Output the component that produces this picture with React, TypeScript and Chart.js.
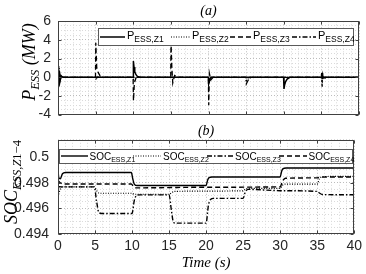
import React, { useEffect, useRef } from "react";
import { Chart, registerables } from "chart.js";
Chart.register(...registerables);

// ---------- tick values ----------
const xMajorTicks = [0, 5, 10, 15, 20, 25, 30, 35, 40];
const pMajorTicks = [-4, -2, 0, 2, 4, 6];
const socMajorTicks = [0.494, 0.496, 0.498, 0.5];

// ---------- legend texts ----------
const pLegendMain = "P";
const socLegendMain = "SOC";
const legendSubs = ["ESS,Z1", "ESS,Z2", "ESS,Z3", "ESS,Z4"];

// ---------- panel (a): P_ESS (MW) ----------
const pTimeZ1 = [0, 0.05, 0.12, 0.2, 0.3, 0.45, 0.7, 9.98, 10.02, 10.1, 10.2, 10.35, 10.55, 10.9, 19.98, 20.03, 20.15, 20.4, 29.98, 30.03, 30.12, 30.25, 30.45, 30.8, 40];
const pZ1 = [0, 1.2, -0.9, 0.6, -0.3, 0.1, 0, 0, 1.75, 1.1, 0.6, 0.3, 0.1, 0, 0, -0.7, -0.3, 0, 0, -1.25, -0.8, -0.45, -0.2, 0, 0];

const pTimeZ2 = [0, 0.04, 0.1, 0.2, 0.35, 0.6, 4.98, 5.05, 5.3, 5.8, 9.98, 10.05, 10.2, 10.5, 19.98, 20.05, 20.2, 20.5, 24.98, 25.05, 25.25, 25.6, 34.98, 35.05, 35.2, 35.5, 40];
const pZ2 = [0, -1.1, 0.5, -0.4, 0.1, 0, 0, -0.3, 0.1, 0, 0, -0.4, -0.15, 0, 0, -0.6, -0.2, 0, 0, -0.5, -0.2, 0, 0, -0.5, -0.2, 0, 0];

const pTimeZ3 = [0, 0.05, 0.12, 0.25, 0.5, 4.98, 5.02, 5.15, 5.35, 5.6, 6.0, 9.98, 10.03, 10.15, 10.4, 14.98, 15.02, 15.12, 15.25, 15.5, 15.9, 19.98, 20.03, 20.12, 20.3, 20.6, 40];
const pZ3 = [0, 0.9, -0.5, 0.2, 0, 0, 3.7, 1.0, 0.5, 0.15, 0, 0, -2.5, -0.6, 0, 0, 3.8, 1.2, -0.6, 0.2, 0, 0, -3.0, 0.4, -0.3, 0, 0];

const pTimeZ4 = [0, 0.03, 0.08, 0.15, 0.25, 0.4, 0.6, 24.98, 25.03, 25.15, 25.35, 25.6, 34.98, 35.03, 35.1, 35.2, 35.35, 35.6, 40];
const pZ4 = [0, 2.2, -1.1, 1.0, -0.5, 0.2, 0, 0, -0.7, -0.5, -0.2, 0, 0, 0.5, -1.0, 0.3, -0.2, 0, 0];

// ---------- panel (b): SOC ----------
const sTimeZ1 = [0, 0.1, 0.3, 0.6, 1.0, 9.9, 10.1, 10.3, 10.7, 20, 20.2, 20.4, 20.8, 30, 30.2, 30.4, 30.8, 40];
const sZ1 = [0.4990, 0.4984, 0.4983, 0.4987, 0.4988, 0.4988, 0.4983, 0.4979, 0.49778, 0.49778, 0.4982, 0.4984, 0.49845, 0.49845, 0.4989, 0.4991, 0.49915, 0.49915];

const sTimeZ2 = [0, 0.3, 0.7, 4.9, 5.2, 5.5, 5.9, 10, 10.3, 10.7, 15, 15.3, 15.7, 25, 25.3, 25.7, 30, 30.3, 30.7, 35, 35.3, 35.7, 40];
const sZ2 = [0.4969, 0.4975, 0.49768, 0.49768, 0.4974, 0.4972, 0.49718, 0.49718, 0.4971, 0.4971, 0.4971, 0.4972, 0.49733, 0.49737, 0.4975, 0.49756, 0.49756, 0.4978, 0.49789, 0.49789, 0.4983, 0.49848, 0.4985];

const sTimeZ3 = [0, 0.5, 4.9, 5.2, 5.5, 5.9, 10, 10.3, 10.6, 11, 15, 15.3, 15.6, 16, 20, 20.3, 20.6, 21, 25, 25.3, 25.7, 30, 35, 35.3, 35.7, 40];
const sZ3 = [0.4977, 0.49768, 0.49768, 0.4966, 0.4957, 0.4956, 0.4956, 0.4966, 0.4970, 0.49705, 0.49705, 0.4959, 0.4949, 0.49485, 0.49485, 0.4962, 0.4967, 0.49678, 0.49678, 0.4973, 0.49748, 0.49738, 0.49732, 0.4972, 0.49708, 0.49706];

const sTimeZ4 = [0, 0.3, 0.8, 9.9, 10.2, 10.6, 20, 30, 30.3, 30.7, 35, 35.5, 40];
const sZ4 = [0.4982, 0.4980, 0.4979, 0.4979, 0.4977, 0.4976, 0.49765, 0.49768, 0.4981, 0.49835, 0.49838, 0.49844, 0.49845];

// ---------- helpers ----------
type Part = { t: string; f: string; dy?: number };

function partsWidth(ctx: CanvasRenderingContext2D, parts: Part[]) {
  let w = 0;
  for (const p of parts) {
    ctx.font = p.f;
    w += ctx.measureText(p.t).width;
  }
  return w;
}

function drawParts(ctx: CanvasRenderingContext2D, parts: Part[], x: number, y: number) {
  let cx = x;
  for (const p of parts) {
    ctx.font = p.f;
    ctx.fillText(p.t, cx, y + (p.dy || 0));
    cx += ctx.measureText(p.t).width;
  }
}

function pts(ts: number[], vs: number[]) {
  return ts.map((t, i) => ({ x: t, y: vs[i] }));
}

const SERIF = "'Liberation Serif', 'DejaVu Serif', serif";
const SANS = "'Liberation Sans', Arial, sans-serif";

const framePlugin = {
  id: "frame",
  afterDatasetsDraw(chart: any, _a: any, o: any) {
    const { ctx, chartArea: a } = chart;
    ctx.save();
    ctx.strokeStyle = "#404040";
    ctx.lineWidth = 1;
    ctx.setLineDash([]);
    const L = Math.round(a.left) + 0.5, R = Math.round(a.right) - 0.5;
    const T = Math.round(a.top) + 0.5, B = Math.round(a.bottom) - 0.5;
    ctx.strokeRect(L, T, R - L, B - T);
    ctx.beginPath();
    for (const v of o.xTicks || []) {
      const x = Math.round(chart.scales.x.getPixelForValue(v)) + 0.5;
      ctx.moveTo(x, B); ctx.lineTo(x, B - 3);
      ctx.moveTo(x, T); ctx.lineTo(x, T + 3);
    }
    for (const v of o.yTicks || []) {
      const y = Math.round(chart.scales.y.getPixelForValue(v)) + 0.5;
      ctx.moveTo(L, y); ctx.lineTo(L + 3, y);
      ctx.moveTo(R, y); ctx.lineTo(R - 3, y);
    }
    ctx.stroke();
    ctx.restore();
  },
};

const legendPlugin = {
  id: "richLegend",
  afterDatasetsDraw(chart: any, _a: any, o: any) {
    if (!o || !o.box) return;
    const ctx = chart.ctx as CanvasRenderingContext2D;
    ctx.save();
    const [x0, y0, x1, y1] = o.box;
    ctx.fillStyle = "#ffffff";
    ctx.fillRect(x0, y0, x1 - x0, y1 - y0);
    ctx.strokeStyle = "#5a5a5a";
    ctx.lineWidth = 1;
    ctx.setLineDash([]);
    ctx.strokeRect(Math.round(x0) + 0.5, Math.round(y0) + 0.5, Math.round(x1 - x0) - 1, Math.round(y1 - y0) - 1);
    chart.data.datasets.forEach((ds: any, i: number) => {
      const it = o.items[i];
      ctx.beginPath();
      ctx.setLineDash(ds.borderDash || []);
      ctx.strokeStyle = ds.borderColor;
      ctx.lineWidth = ds.borderWidth;
      ctx.moveTo(it[0], o.lineY);
      ctx.lineTo(it[1], o.lineY);
      ctx.stroke();
      ctx.setLineDash([]);
      ctx.fillStyle = "#000";
      ctx.textAlign = "left";
      ctx.textBaseline = "alphabetic";
      drawParts(ctx, [
        { t: o.main, f: o.mainFont },
        { t: o.subs[i], f: o.subFont, dy: o.subDy },
      ], it[2], o.baseline);
    });
    ctx.restore();
  },
};

const yLabelPlugin = {
  id: "yLabel",
  afterDraw(chart: any, _a: any, o: any) {
    if (!o || !o.parts) return;
    const ctx = chart.ctx as CanvasRenderingContext2D;
    ctx.save();
    ctx.translate(o.x, o.y);
    ctx.rotate(-Math.PI / 2);
    ctx.fillStyle = "#000";
    ctx.textAlign = "left";
    ctx.textBaseline = "alphabetic";
    const w = partsWidth(ctx, o.parts);
    drawParts(ctx, o.parts, -w / 2, 0);
    ctx.restore();
  },
};

function isMultiple(v: number, step: number) {
  const r = v / step;
  return Math.abs(r - Math.round(r)) < 1e-6;
}

const MAJOR = "#bcbcbc";
const MINOR = "#dadada";

export default function App() {
  const topRef = useRef<HTMLCanvasElement>(null);
  const botRef = useRef<HTMLCanvasElement>(null);

  useEffect(() => {
    const lineBase = { borderColor: "#000", pointRadius: 0, fill: false, tension: 0 };
    const xScale = (showLabels: boolean) => ({
      type: "linear" as const,
      min: 0,
      max: 40,
      ticks: {
        stepSize: 1,
        autoSkip: false,
        maxRotation: 0,
        display: showLabels,
        padding: 4,
        color: "#262626",
        font: { family: SANS, size: 14 },
        callback: (v: any) => (isMultiple(Number(v), 5) ? String(v) : ""),
      },
      grid: {
        drawTicks: false,
        lineWidth: 1,
        color: (c: any) => (c.tick && isMultiple(c.tick.value, 5) ? MAJOR : MINOR),
      },
      border: { display: false, dash: [1, 2] },
    });

    const top = new Chart(topRef.current!, {
      type: "line",
      data: {
        datasets: [
          { ...lineBase, label: "P_ESS,Z1", data: pts(pTimeZ1, pZ1), borderWidth: 1.5, borderDash: [] },
          { ...lineBase, label: "P_ESS,Z2", data: pts(pTimeZ2, pZ2), borderWidth: 1.1, borderDash: [1, 1.5] },
          { ...lineBase, label: "P_ESS,Z3", data: pts(pTimeZ3, pZ3), borderWidth: 1.3, borderDash: [5, 3] },
          { ...lineBase, label: "P_ESS,Z4", data: pts(pTimeZ4, pZ4), borderWidth: 1.3, borderDash: [5, 2, 1.5, 2] },
        ],
      },
      options: {
        animation: false,
        responsive: false,
        maintainAspectRatio: false,
        layout: { padding: { left: 0, right: 7, top: 0, bottom: 0 } },
        plugins: {
          legend: { display: false },
          tooltip: { enabled: false },
          title: {
            display: true,
            text: "(a)",
            fullSize: false,
            color: "#000",
            font: { family: SERIF, style: "italic", size: 14, weight: "normal" },
            padding: { top: 3, bottom: 1.5 },
          },
          frame: { xTicks: xMajorTicks, yTicks: pMajorTicks },
          richLegend: {
            box: [98, 28, 354, 46],
            items: [[100, 125, 127], [171, 190, 192], [230, 251, 253], [292, 316, 318]],
            lineY: 37,
            baseline: 39,
            main: pLegendMain,
            subs: legendSubs,
            mainFont: `11px ${SANS}`,
            subFont: `8.5px ${SANS}`,
            subDy: 2.5,
          },
          yLabel: {
            x: 35,
            y: 62,
            parts: [
              { t: "P", f: `italic 18px ${SERIF}` },
              { t: "ESS", f: `italic 12.5px ${SERIF}`, dy: 4 },
              { t: " (MW)", f: `italic 18px ${SERIF}` },
            ],
          },
        } as any,
        scales: {
          x: { ...xScale(false), afterFit: (s: any) => { s.height = 6; } } as any,
          y: {
            type: "linear",
            min: -4,
            max: 6,
            afterFit: (s: any) => { s.width = 58; },
            ticks: {
              stepSize: 0.5,
              autoSkip: false,
              padding: 7,
              color: "#262626",
              font: { family: SANS, size: 14 },
              callback: (v: any) => (isMultiple(Number(v), 2) ? String(v) : ""),
            },
            grid: {
              drawTicks: false,
              color: (c: any) => (c.tick && isMultiple(c.tick.value, 2) ? MAJOR : MINOR),
            },
            border: { display: false, dash: [1, 2] },
          } as any,
        },
      },
      plugins: [framePlugin, legendPlugin, yLabelPlugin],
    });

    const bot = new Chart(botRef.current!, {
      type: "line",
      data: {
        datasets: [
          { ...lineBase, label: "SOC_ESS,Z1", data: pts(sTimeZ1, sZ1), borderWidth: 1.4, borderDash: [], cubicInterpolationMode: "monotone" },
          { ...lineBase, label: "SOC_ESS,Z2", data: pts(sTimeZ2, sZ2), borderWidth: 1.2, borderDash: [1, 1.5], cubicInterpolationMode: "monotone" },
          { ...lineBase, label: "SOC_ESS,Z3", data: pts(sTimeZ3, sZ3), borderWidth: 1.4, borderDash: [5, 2, 1.5, 2], cubicInterpolationMode: "monotone" },
          { ...lineBase, label: "SOC_ESS,Z4", data: pts(sTimeZ4, sZ4), borderWidth: 1.4, borderDash: [5, 3], cubicInterpolationMode: "monotone" },
        ],
      },
      options: {
        animation: false,
        responsive: false,
        maintainAspectRatio: false,
        layout: { padding: { left: 0, right: 7, top: 0, bottom: 0 } },
        plugins: {
          legend: { display: false },
          tooltip: { enabled: false },
          title: {
            display: true,
            text: "(b)",
            fullSize: false,
            color: "#000",
            font: { family: SERIF, style: "italic", size: 14, weight: "normal" },
            padding: { top: 3, bottom: 0 },
          },
          frame: { xTicks: xMajorTicks, yTicks: socMajorTicks },
          richLegend: {
            box: [59, 29, 353, 44],
            items: [[61, 88, 89.5], [133, 161, 163], [207, 233, 235], [279, 307, 308.5]],
            lineY: 36,
            baseline: 39.5,
            main: socLegendMain,
            subs: legendSubs,
            mainFont: `10px ${SANS}`,
            subFont: `7px ${SANS}`,
            subDy: 2.5,
          },
          yLabel: {
            x: 17,
            y: 62,
            parts: [
              { t: "SOC", f: `italic 18px ${SERIF}` },
              { t: "ESS,Z", f: `italic 12.5px ${SERIF}`, dy: 4 },
              { t: "1\u22124", f: `12.5px ${SERIF}`, dy: 4 },
            ],
          },
        } as any,
        scales: {
          x: {
            ...xScale(true),
            afterFit: (s: any) => { s.height = 40; },
            title: {
              display: true,
              text: "Time (s)",
              color: "#000",
              font: { family: SERIF, style: "italic", size: 15 },
              padding: { top: 0, bottom: 2 },
            },
          } as any,
          y: {
            type: "linear",
            min: 0.494,
            max: 0.50135,
            afterFit: (s: any) => { s.width = 58; },
            ticks: {
              stepSize: 0.0005,
              autoSkip: false,
              padding: 9,
              color: "#262626",
              font: { family: SANS, size: 14 },
              callback: (v: any) => {
                const n = Number(v);
                return isMultiple(n, 0.002) ? String(parseFloat(n.toFixed(3))) : "";
              },
            },
            grid: {
              drawTicks: false,
              color: (c: any) => (c.tick && isMultiple(c.tick.value, 0.002) ? MAJOR : MINOR),
            },
            border: { display: false, dash: [1, 2] },
          } as any,
        },
      },
      plugins: [framePlugin, legendPlugin, yLabelPlugin],
    });

    return () => {
      top.destroy();
      bot.destroy();
    };
  }, []);

  return (
    <div style={{ position: "fixed", left: 0, top: 0, width: 366, height: 274, background: "#fff" }}>
      <canvas ref={topRef} width={366} height={130} style={{ position: "absolute", left: 0, top: 0, width: 366, height: 130 }} />
      <canvas ref={botRef} width={366} height={154} style={{ position: "absolute", left: 0, top: 120, width: 366, height: 154 }} />
    </div>
  );
}
